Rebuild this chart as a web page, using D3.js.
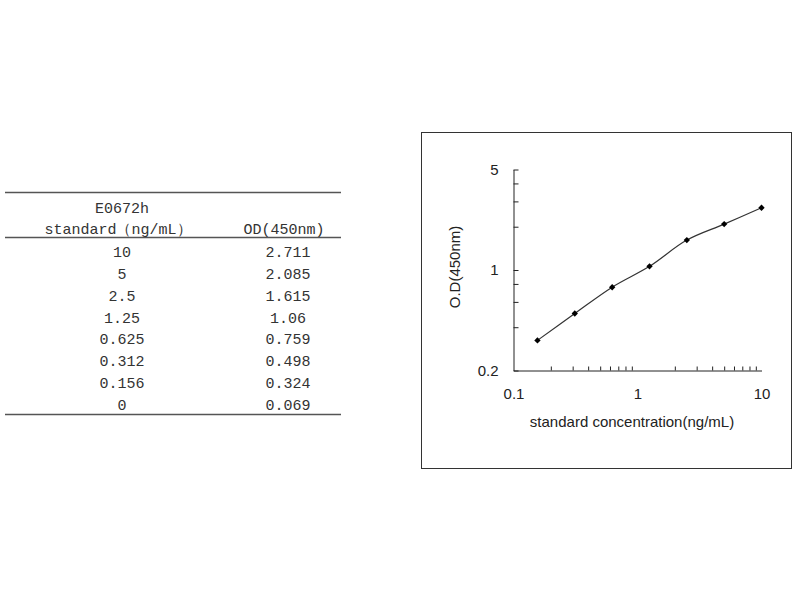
<!DOCTYPE html>
<html>
<head>
<meta charset="utf-8">
<script src="https://cdn.jsdelivr.net/npm/d3@7"></script>
<style>
  html, body { margin: 0; padding: 0; background: #fff; }
  svg { display: block; }
</style>
</head>
<body>
<svg id="chart" width="800" height="600"></svg>
<script>
// Standard curve data for E0672h ELISA
const tableTitle = "E0672h";
const headerConc = "standard（ng/mL）";
const headerOD = "OD(450nm)";
const concLabels = ["10", "5", "2.5", "1.25", "0.625", "0.312", "0.156", "0"];
const concValues = [10, 5, 2.5, 1.25, 0.625, 0.312, 0.156, 0];
const odLabels = ["2.711", "2.085", "1.615", "1.06", "0.759", "0.498", "0.324", "0.069"];
const odValues = [2.711, 2.085, 1.615, 1.06, 0.759, 0.498, 0.324, 0.069];

const xTickLabels = [0.1, 1, 10];
const yTickLabels = [0.2, 1, 5];
const yMinorTicks = [0.2, 0.4, 0.6, 0.8, 1, 2, 3, 4, 5];
const xMinorTicks = [0.2, 0.3, 0.4, 0.5, 0.6, 0.7, 0.8, 0.9, 2, 3, 4, 5, 6, 7, 8, 9];
const xTitle = "standard concentration(ng/mL)";
const yTitle = "O.D(450nm)";

const svg = d3.select("#chart");

// ---------- Table ----------
const tbl = svg.append("g");
const tableFont = "'Liberation Mono', 'DejaVu Sans Mono', monospace";
const tblLeft = 5, tblRight = 341;
const colConc = 122, colOD = 288;
const rowY = d3.scaleLinear().domain([0, 7]).range([251.5, 405]);

[192.5, 237.5, 414.5].forEach(y => {
  tbl.append("line")
    .attr("x1", tblLeft).attr("x2", tblRight)
    .attr("y1", y).attr("y2", y)
    .attr("stroke", "#555").attr("stroke-width", 1.3);
});

tbl.append("text").attr("x", colConc).attr("y", 213)
  .attr("text-anchor", "middle").attr("font-family", tableFont)
  .attr("font-size", 15).attr("fill", "#333").text(tableTitle);
tbl.append("text").attr("x", 118).attr("y", 234)
  .attr("text-anchor", "middle").attr("font-family", tableFont)
  .attr("font-size", 15).attr("fill", "#333").text(headerConc);
tbl.append("text").attr("x", 284).attr("y", 234)
  .attr("text-anchor", "middle").attr("font-family", tableFont)
  .attr("font-size", 15).attr("fill", "#333").text(headerOD);

concLabels.forEach((c, i) => {
  tbl.append("text").attr("x", colConc).attr("y", rowY(i)).attr("dy", "0.35em")
    .attr("text-anchor", "middle").attr("font-family", tableFont)
    .attr("font-size", 15).attr("fill", "#333").text(c);
  tbl.append("text").attr("x", colOD).attr("y", rowY(i)).attr("dy", "0.35em")
    .attr("text-anchor", "middle").attr("font-family", tableFont)
    .attr("font-size", 15).attr("fill", "#333").text(odLabels[i]);
});

// ---------- Chart ----------
const chartFont = "'Liberation Sans', Arial, sans-serif";
svg.append("rect")
  .attr("x", 421.5).attr("y", 132.5).attr("width", 370).attr("height", 336)
  .attr("fill", "none").attr("stroke", "#333").attr("stroke-width", 1);

const x = d3.scaleLog().domain([0.1, 10]).range([513.5, 761.5]);
const y = d3.scaleLog().domain([0.2, 5]).range([370.5, 169.5]);

// y axis line with inward ticks
const yAxisG = svg.append("g").attr("transform", `translate(${x.range()[0]},0)`);
yAxisG.call(d3.axisRight(y).tickValues(yMinorTicks).tickSize(5).tickSizeOuter(0).tickFormat(""));
yAxisG.select(".domain").attr("stroke", "#222");
yAxisG.selectAll(".tick line").attr("stroke", "#222");

// y labels
const yLab = svg.append("g").attr("transform", `translate(${x.range()[0]},0)`);
yLab.call(d3.axisLeft(y).tickValues(yTickLabels).tickSize(0).tickPadding(15)
  .tickFormat(d3.format("~g")));
yLab.select(".domain").remove();
yLab.selectAll("text").attr("font-family", chartFont).attr("font-size", 15).attr("fill", "#222");

// x axis line with inward ticks
const xAxisG = svg.append("g").attr("transform", `translate(0,${y.range()[0]})`);
xAxisG.call(d3.axisTop(x).tickValues(xMinorTicks).tickSize(4).tickSizeOuter(0).tickFormat(""));
xAxisG.select(".domain").attr("stroke", "#222");
xAxisG.selectAll(".tick line").attr("stroke", "#222");

// x labels
const xLab = svg.append("g").attr("transform", `translate(0,${y.range()[0]})`);
xLab.call(d3.axisBottom(x).tickValues(xTickLabels).tickSize(0).tickPadding(18)
  .tickFormat(d3.format("~g")));
xLab.select(".domain").remove();
xLab.selectAll("text").attr("font-family", chartFont).attr("font-size", 15).attr("fill", "#222");

// axis titles
svg.append("text").attr("x", 632).attr("y", 427)
  .attr("text-anchor", "middle").attr("font-family", chartFont)
  .attr("font-size", 15).attr("fill", "#222").text(xTitle);
svg.append("text")
  .attr("transform", "translate(460,267) rotate(-90)")
  .attr("text-anchor", "middle").attr("font-family", chartFont)
  .attr("font-size", 15).attr("fill", "#222").text(yTitle);

// standard curve (zero standard cannot be shown on a log axis)
const pts = concValues.map((c, i) => ({ c, od: odValues[i] }))
  .filter(d => d.c > 0)
  .sort((a, b) => a.c - b.c);

svg.append("path")
  .datum(pts)
  .attr("fill", "none").attr("stroke", "#333").attr("stroke-width", 1.2)
  .attr("d", d3.line().x(d => x(d.c)).y(d => y(d.od)).curve(d3.curveCatmullRom.alpha(0.5)));

// square markers turned 45° into diamonds
svg.append("g").selectAll("path")
  .data(pts).join("path")
  .attr("transform", d => `translate(${x(d.c)},${y(d.od)}) rotate(45)`)
  .attr("d", d3.symbol().type(d3.symbolSquare).size(20))
  .attr("fill", "#000");
</script>
</body>
</html>
